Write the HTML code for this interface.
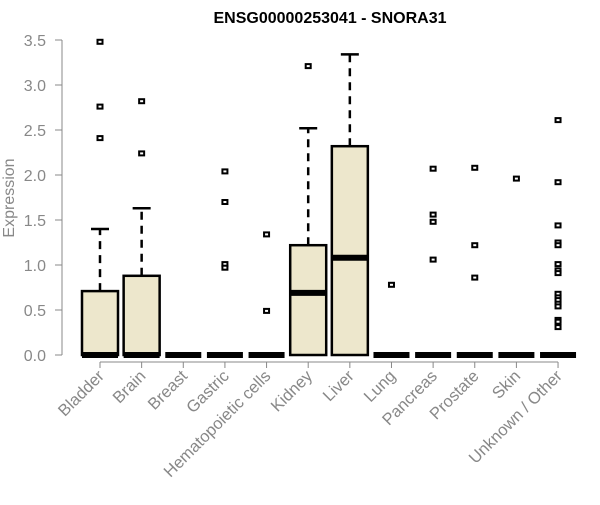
<!DOCTYPE html>
<html><head><meta charset="utf-8"><style>
body{margin:0;background:#fff}
svg{font-family:"Liberation Sans",Arial,sans-serif}
</style></head><body>
<svg id="chart" width="600" height="500"></svg>
<script>
const categories=["Bladder","Brain","Breast","Gastric","Hematopoietic cells","Kidney","Liver","Lung","Pancreas","Prostate","Skin","Unknown / Other"];
const medians=[0,0,0,0,0,0.69,1.08,0,0,0,0,0];
const q1s=[0,0,0,0,0,0,0,0,0,0,0,0];
const q3s=[0.71,0.88,0,0,0,1.22,2.32,0,0,0,0,0];
const whiskerHighs=[1.40,1.63,0,0,0,2.52,3.34,0,0,0,0,0];
const outliers=[[3.48,2.76,2.41],[2.82,2.24],[],[2.04,1.70,1.01,0.97],[1.34,0.49],[3.21],[],[0.78],[2.07,1.56,1.48,1.06],[2.08,1.22,0.86],[1.96],[2.61,1.92,1.44,1.25,1.22,1.01,0.94,0.91,0.68,0.64,0.61,0.57,0.54,0.39,0.37,0.31]];
const yTicks=[0,0.5,1,1.5,2,2.5,3,3.5];
const ns="http://www.w3.org/2000/svg";
const svg=document.getElementById('chart');
function y(v){return 355-v*90;}
function x(i){return 100+i*41.64;}
function el(t,a,p){const e=document.createElementNS(ns,t);for(const k in a)e.setAttribute(k,a[k]);(p||svg).appendChild(e);return e;}
let t=el('text',{x:330,y:23,'text-anchor':'middle','font-weight':'bold','font-size':16});


t.textContent="ENSG00000253041 - SNORA31";
let ya=el('line',{x1:62,x2:62,y1:y(0),y2:y(3.5),stroke:'#888'});


yTicks.forEach(v=>{
 el('line',{x1:55,x2:62,y1:y(v),y2:y(v),stroke:'#888'});
 let l=el('text',{x:46,y:y(v)+6,'text-anchor':'end','font-size':16,fill:'#888'});
 
 
 l.textContent=v.toFixed(1);
});
let yt=el('text',{x:14,y:198,'text-anchor':'middle','font-size':16,fill:'#888',transform:'rotate(-90 14 198)'});


yt.textContent="Expression";
let xa=el('line',{x1:x(0),x2:x(11),y1:362,y2:362,stroke:'#888'});


categories.forEach((c,i)=>{
 const cx=x(i),w=18;
 el('line',{x1:cx,x2:cx,y1:362,y2:368,stroke:'#888'});
 let l=el('text',{x:cx+5,y:377,'text-anchor':'end','font-size':16.5,fill:'#888',transform:`rotate(-45 ${cx+5} 377)`});
 
 
 l.textContent=c;
 const g=el('g',{});
 
 
 if(whiskerHighs[i]>q3s[i]){
  el('line',{x1:cx,x2:cx,y1:y(q3s[i]),y2:y(whiskerHighs[i]),stroke:'#000','stroke-width':2.5,'stroke-dasharray':'8,6'},g);
  el('line',{x1:cx-9,x2:cx+9,y1:y(whiskerHighs[i]),y2:y(whiskerHighs[i]),stroke:'#000','stroke-width':2.5},g);
 }
 if(q3s[i]>q1s[i]) el('rect',{x:cx-w,y:y(q3s[i]),width:2*w,height:y(q1s[i])-y(q3s[i]),fill:'#ede7cc',stroke:'#000','stroke-width':2.5},g);
 el('line',{x1:cx-w,x2:cx+w,y1:y(medians[i]),y2:y(medians[i]),stroke:'#000','stroke-width':6},g);
 outliers[i].forEach(v=>{
  const p=el('rect',{x:cx-2.5,y:y(v)-2,width:5,height:4,fill:'#fff',stroke:'#000','stroke-width':2},g);
  
  
 });
});
</script>
</body></html>
